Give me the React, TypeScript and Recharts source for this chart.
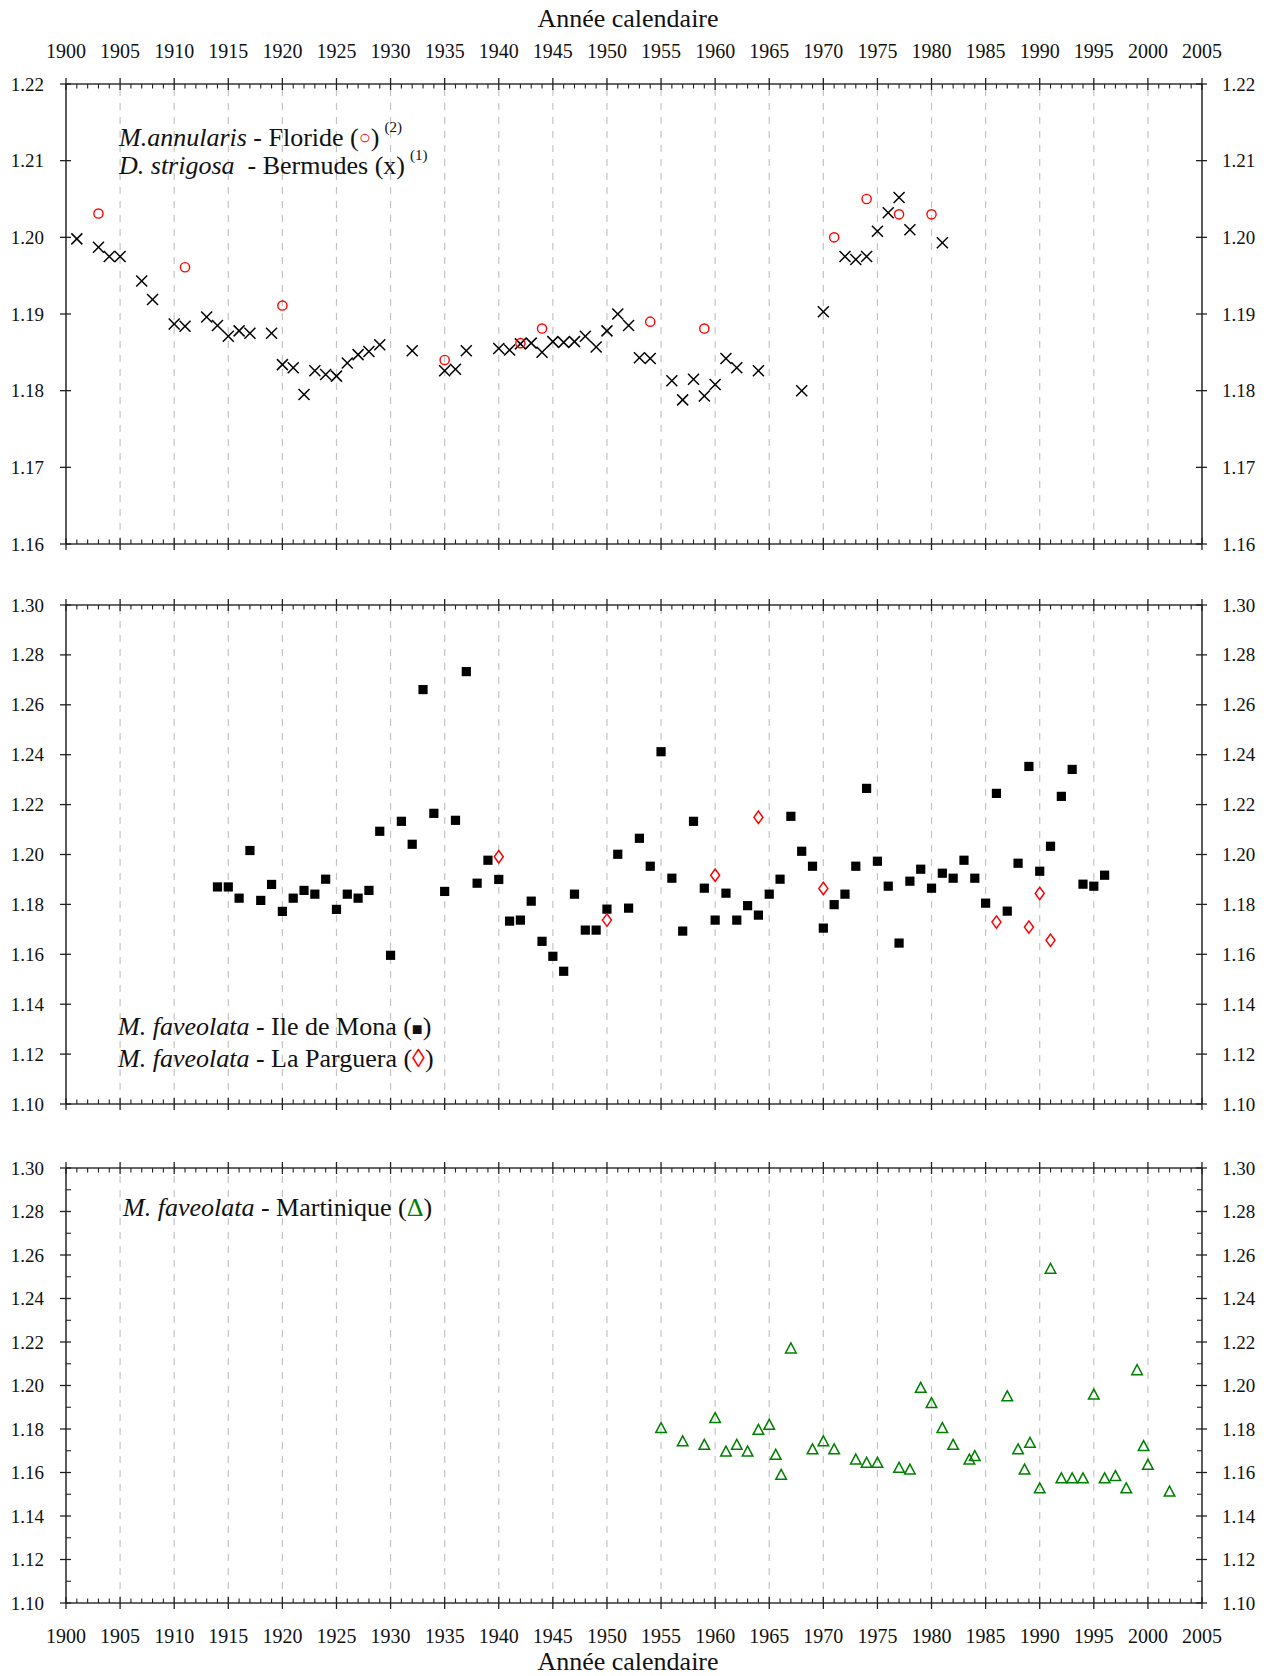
/**
 * Coral density series - three stacked scatter panels
 * Recharts ScatterChart, custom ticks on all four sides
 */

import { ScatterChart, Scatter, XAxis, YAxis, ReferenceLine } from 'recharts'

const FONT = '"Liberation Serif", "Times New Roman", serif'
const AXIS_COLOR = '#333333'
const TICK_COLOR = '#222222'
const RED = '#ff0000'
const GREEN = '#008000'

// Axis ticks
const yearTicks = Array.from({ length: 106 }, (_, i) => 1900 + i)
const gridYears = [1905, 1910, 1915, 1920, 1925, 1930, 1935, 1940, 1945, 1950, 1955, 1960, 1965, 1970, 1975, 1980, 1985, 1990, 1995, 2000]
const topTicks = [1.16, 1.17, 1.18, 1.19, 1.2, 1.21, 1.22]
const middleTicks = [1.1, 1.12, 1.14, 1.16, 1.18, 1.2, 1.22, 1.24, 1.26, 1.28, 1.3]
const bottomTicks = [1.1, 1.11, 1.12, 1.13, 1.14, 1.15, 1.16, 1.17, 1.18, 1.19, 1.2, 1.21, 1.22, 1.23, 1.24, 1.25, 1.26, 1.27, 1.28, 1.29, 1.3]

// D. strigosa - Bermudes (x)
const bermudesYears = [1901, 1903, 1904, 1905, 1907, 1908, 1910, 1911, 1913, 1914, 1915, 1916, 1917, 1919, 1920, 1921, 1922, 1923, 1924, 1925, 1926, 1927, 1928, 1929, 1932, 1935, 1936, 1937, 1940, 1941, 1942, 1943, 1944, 1945, 1946, 1947, 1948, 1949, 1950, 1951, 1952, 1953, 1954, 1956, 1957, 1958, 1959, 1960, 1961, 1962, 1964, 1968, 1970, 1972, 1973, 1974, 1975, 1976, 1977, 1978, 1981]
const bermudesValues = [1.1998, 1.1987, 1.1975, 1.1975, 1.1943, 1.1919, 1.1887, 1.1884, 1.1896, 1.1885, 1.1871, 1.1878, 1.1875, 1.1875, 1.1834, 1.183, 1.1795, 1.1826, 1.1821, 1.1819, 1.1836, 1.1847, 1.1851, 1.186, 1.1852, 1.1826, 1.1828, 1.1852, 1.1855, 1.1853, 1.1861, 1.1862, 1.185, 1.1864, 1.1863, 1.1864, 1.1871, 1.1857, 1.1878, 1.19, 1.1885, 1.1843, 1.1842, 1.1813, 1.1788, 1.1815, 1.1793, 1.1808, 1.1842, 1.183, 1.1826, 1.18, 1.1903, 1.1975, 1.1971, 1.1975, 1.2008, 1.2032, 1.2052, 1.201, 1.1993]

// M. annularis - Floride (o)
const florideYears = [1903, 1911, 1920, 1935, 1942, 1944, 1954, 1959, 1971, 1974, 1977, 1980]
const florideValues = [1.2031, 1.1961, 1.1911, 1.184, 1.1862, 1.1881, 1.189, 1.1881, 1.2, 1.205, 1.203, 1.203]

// M. faveolata - Ile de Mona (square)
const monaYears = [1914, 1915, 1916, 1917, 1918, 1919, 1920, 1921, 1922, 1923, 1924, 1925, 1926, 1927, 1928, 1929, 1930, 1931, 1932, 1933, 1934, 1935, 1936, 1937, 1938, 1939, 1940, 1941, 1942, 1943, 1944, 1945, 1946, 1947, 1948, 1949, 1950, 1951, 1952, 1953, 1954, 1955, 1956, 1957, 1958, 1959, 1960, 1961, 1962, 1963, 1964, 1965, 1966, 1967, 1968, 1969, 1970, 1971, 1972, 1973, 1974, 1975, 1976, 1977, 1978, 1979, 1980, 1981, 1982, 1983, 1984, 1985, 1986, 1987, 1988, 1989, 1990, 1991, 1992, 1993, 1994, 1995, 1996]
const monaValues = [1.187, 1.187, 1.1825, 1.2016, 1.1816, 1.188, 1.1772, 1.1825, 1.1856, 1.1841, 1.1901, 1.178, 1.1841, 1.1825, 1.1856, 1.2093, 1.1596, 1.2133, 1.2041, 1.2661, 1.2165, 1.1852, 1.2137, 1.2733, 1.1885, 1.1977, 1.19, 1.1733, 1.1737, 1.1813, 1.1652, 1.1592, 1.1532, 1.1841, 1.1697, 1.1697, 1.1781, 1.2001, 1.1785, 1.2065, 1.1953, 1.2412, 1.1905, 1.1693, 1.2133, 1.1865, 1.1737, 1.1845, 1.1737, 1.1795, 1.1757, 1.1841, 1.1901, 1.2153, 1.2013, 1.1953, 1.1705, 1.1799, 1.1841, 1.1953, 1.2265, 1.1973, 1.1873, 1.1645, 1.1893, 1.1941, 1.1865, 1.1925, 1.1905, 1.1977, 1.1905, 1.1805, 1.2245, 1.1773, 1.1965, 1.2353, 1.1933, 1.2033, 1.2233, 1.2341, 1.1881, 1.1873, 1.1917]

// M. faveolata - La Parguera (diamond)
const pargueraYears = [1940, 1950, 1960, 1964, 1970, 1986, 1989, 1990, 1991]
const pargueraValues = [1.1991, 1.1737, 1.1917, 1.2149, 1.1864, 1.1729, 1.1709, 1.1844, 1.1656]

// M. faveolata - Martinique (triangle)
const martiniqueYears = [1955, 1957, 1959, 1960, 1961, 1962, 1963, 1964, 1965, 1965.6, 1966.1, 1967, 1969, 1970, 1971, 1973, 1974, 1975, 1977, 1978, 1979, 1980, 1981, 1982, 1983.5, 1984, 1987, 1988, 1988.6, 1989.1, 1990, 1991, 1992, 1993, 1994, 1995, 1996, 1997, 1998, 1999, 1999.6, 2000, 2002]
const martiniqueValues = [1.1803, 1.1742, 1.1726, 1.1849, 1.1695, 1.1726, 1.1695, 1.1795, 1.1818, 1.168, 1.1588, 1.2169, 1.1705, 1.1742, 1.1705, 1.1658, 1.1643, 1.1643, 1.162, 1.1612, 1.1988, 1.1918, 1.1803, 1.1726, 1.1658, 1.1674, 1.1949, 1.1705, 1.1612, 1.1735, 1.1526, 1.2535, 1.1572, 1.1572, 1.1572, 1.1957, 1.1572, 1.1582, 1.1526, 1.2069, 1.172, 1.1634, 1.1511]

interface Point {
  year: number
  v: number
}

const toPoints = (years: number[], values: number[]): Point[] =>
  years.map((year, i) => ({ year, v: values[i] }))

const bermudesData = toPoints(bermudesYears, bermudesValues)
const florideData = toPoints(florideYears, florideValues)
const monaData = toPoints(monaYears, monaValues)
const pargueraData = toPoints(pargueraYears, pargueraValues)
const martiniqueData = toPoints(martiniqueYears, martiniqueValues)

// Marker shapes
interface MarkProps {
  cx?: number
  cy?: number
}

function CrossMark({ cx = 0, cy = 0 }: MarkProps) {
  const s = 5.5
  return (
    <g stroke="#000" strokeWidth={1.5}>
      <line x1={cx - s} y1={cy - s} x2={cx + s} y2={cy + s} />
      <line x1={cx - s} y1={cy + s} x2={cx + s} y2={cy - s} />
    </g>
  )
}

function CircleMark({ cx = 0, cy = 0 }: MarkProps) {
  return <circle cx={cx} cy={cy} r={4.6} fill="none" stroke={RED} strokeWidth={1.4} />
}

function SquareMark({ cx = 0, cy = 0 }: MarkProps) {
  return <rect x={cx - 4.6} y={cy - 4.6} width={9.2} height={9.2} fill="#000" />
}

function DiamondMark({ cx = 0, cy = 0 }: MarkProps) {
  const pts = `${cx},${cy - 6.2} ${cx + 4.5},${cy} ${cx},${cy + 6.2} ${cx - 4.5},${cy}`
  return <polygon points={pts} fill="#fff" stroke={RED} strokeWidth={1.5} />
}

function TriangleMark({ cx = 0, cy = 0 }: MarkProps) {
  const pts = `${cx},${cy - 5.8} ${cx + 5.3},${cy + 4.2} ${cx - 5.3},${cy + 4.2}`
  return <polygon points={pts} fill="none" stroke={GREEN} strokeWidth={1.5} strokeLinejoin="miter" />
}

const EmptyMark = () => <g />

// Custom ticks: major every 5 years with crossing tick, minor inward
function makeXTick(side: 'top' | 'bottom', showLabel: boolean) {
  return (props: any) => {
    const { x, y, payload } = props
    const v = payload.value as number
    const major = v % 5 === 0
    const inward = side === 'top' ? 1 : -1
    return (
      <g>
        {major ? (
          <line x1={x} x2={x} y1={y - 6} y2={y + 6} stroke={TICK_COLOR} strokeWidth={1.3} />
        ) : (
          <line x1={x} x2={x} y1={y} y2={y + inward * 4.5} stroke={TICK_COLOR} strokeWidth={1.1} />
        )}
        {major && showLabel && (
          <text
            x={x}
            y={side === 'top' ? y - 26 : y + 40}
            textAnchor="middle"
            fontFamily={FONT}
            fontSize={20}
            fill="#111"
          >
            {v}
          </text>
        )}
      </g>
    )
  }
}

function makeYTick(side: 'left' | 'right', majorStep: number) {
  return (props: any) => {
    const { x, y, payload } = props
    const hundredths = Math.round(payload.value * 100)
    const major = hundredths % majorStep === 0
    const inward = side === 'left' ? 1 : -1
    return (
      <g>
        {major ? (
          <line x1={x - 6} x2={x + 5} y1={y} y2={y} stroke={TICK_COLOR} strokeWidth={1.3} />
        ) : (
          <line x1={x} x2={x + inward * 5} y1={y} y2={y} stroke={TICK_COLOR} strokeWidth={1.1} />
        )}
        {major && (
          <text
            x={side === 'left' ? x - 22 : x + 20}
            y={y + 6.5}
            textAnchor={side === 'left' ? 'end' : 'start'}
            fontFamily={FONT}
            fontSize={19}
            fill="#111"
          >
            {(hundredths / 100).toFixed(2)}
          </text>
        )}
      </g>
    )
  }
}

const axisLineStyle = { stroke: AXIS_COLOR, strokeWidth: 1.6 }

// axes take 1px each (a 0-size axis is not drawn), so margins are 1px smaller
interface PanelProps {
  top: number
  height: number
  marginTop: number
  marginBottom: number
  yDomain: [number, number]
  yTicks: number[]
  majorStep: number
  topLabels?: boolean
  bottomLabels?: boolean
  anchorData: Point[]
  children?: React.ReactNode
}

function Panel({
  top,
  height,
  marginTop,
  marginBottom,
  yDomain,
  yTicks,
  majorStep,
  topLabels = false,
  bottomLabels = false,
  anchorData,
  children,
}: PanelProps) {
  return (
    <div style={{ position: 'absolute', left: 0, top }}>
      <ScatterChart
        width={1270}
        height={height}
        margin={{ top: marginTop - 1, bottom: marginBottom - 1, left: 65, right: 67 }}
      >
        <XAxis
          xAxisId="top"
          orientation="top"
          type="number"
          dataKey="year"
          domain={[1900, 2005]}
          ticks={yearTicks}
          interval={0}
          height={1}
          tickSize={0}
          tickMargin={0}
          axisLine={axisLineStyle}
          tick={makeXTick('top', topLabels)}
        />
        <XAxis
          xAxisId="bottom"
          orientation="bottom"
          type="number"
          dataKey="year"
          domain={[1900, 2005]}
          ticks={yearTicks}
          interval={0}
          height={1}
          tickSize={0}
          tickMargin={0}
          axisLine={axisLineStyle}
          tick={makeXTick('bottom', bottomLabels)}
        />
        <YAxis
          yAxisId="left"
          orientation="left"
          type="number"
          dataKey="v"
          domain={yDomain}
          ticks={yTicks}
          interval={0}
          width={1}
          tickSize={0}
          tickMargin={0}
          axisLine={axisLineStyle}
          tick={makeYTick('left', majorStep)}
        />
        <YAxis
          yAxisId="right"
          orientation="right"
          type="number"
          dataKey="v"
          domain={yDomain}
          ticks={yTicks}
          interval={0}
          width={1}
          tickSize={0}
          tickMargin={0}
          axisLine={axisLineStyle}
          tick={makeYTick('right', majorStep)}
        />

        {/* Dashed vertical grid every 5 years */}
        {gridYears.map((yr) => (
          <ReferenceLine
            key={`grid-${yr}`}
            x={yr}
            xAxisId="bottom"
            yAxisId="left"
            stroke="#c4c4c4"
            strokeWidth={1.2}
            strokeDasharray="7 7"
          />
        ))}

        {/* keeps the top/right axes bound to data */}
        <Scatter
          data={anchorData}
          xAxisId="top"
          yAxisId="right"
          shape={EmptyMark}
          isAnimationActive={false}
        />

        {children}
      </ScatterChart>
    </div>
  )
}

const textStyle = { fontFamily: FONT, whiteSpace: 'pre' as const }

export default function App() {
  return (
    <div style={{ position: 'absolute', left: 0, top: 0, width: 1270, height: 1676, background: '#fff' }}>
      <Panel
        top={0}
        height={574}
        marginTop={84}
        marginBottom={30}
        yDomain={[1.16, 1.22]}
        yTicks={topTicks}
        majorStep={1}
        topLabels
        anchorData={bermudesData}
      >
        <Scatter data={bermudesData} xAxisId="bottom" yAxisId="left" shape={CrossMark} isAnimationActive={false} />
        <Scatter data={florideData} xAxisId="bottom" yAxisId="left" shape={CircleMark} isAnimationActive={false} />
      </Panel>

      <Panel
        top={574}
        height={562}
        marginTop={31}
        marginBottom={32}
        yDomain={[1.1, 1.3]}
        yTicks={middleTicks}
        majorStep={2}
        anchorData={monaData}
      >
        <Scatter data={monaData} xAxisId="bottom" yAxisId="left" shape={SquareMark} isAnimationActive={false} />
        <Scatter data={pargueraData} xAxisId="bottom" yAxisId="left" shape={DiamondMark} isAnimationActive={false} />
      </Panel>

      <Panel
        top={1136}
        height={540}
        marginTop={32}
        marginBottom={73}
        yDomain={[1.1, 1.3]}
        yTicks={bottomTicks}
        majorStep={2}
        bottomLabels
        anchorData={martiniqueData}
      >
        <Scatter data={martiniqueData} xAxisId="bottom" yAxisId="left" shape={TriangleMark} isAnimationActive={false} />
      </Panel>

      {/* Titles and in-plot legends */}
      <svg
        width={1270}
        height={1676}
        style={{ position: 'absolute', left: 0, top: 0, pointerEvents: 'none' }}
      >
        <text x={628} y={27} textAnchor="middle" fontSize={26} fill="#111" style={textStyle}>
          Année calendaire
        </text>
        <text x={628} y={1670} textAnchor="middle" fontSize={26} fill="#111" style={textStyle}>
          Année calendaire
        </text>

        <text x={119} y={146} fontSize={26} fill="#111" style={textStyle}>
          <tspan fontStyle="italic">M.annularis</tspan>
          <tspan> - Floride (</tspan>
          <tspan fill={RED} fontSize={20} dy={-2}>○</tspan>
          <tspan dy={2}>)</tspan>
          <tspan dx={5} dy={-14} fontSize={15}>(2)</tspan>
        </text>
        <text x={119} y={174} fontSize={26} fill="#111" style={textStyle}>
          <tspan fontStyle="italic">D. strigosa</tspan>
          <tspan>  - Bermudes (x)</tspan>
          <tspan dx={5} dy={-14} fontSize={15}>(1)</tspan>
        </text>

        <text x={118} y={1035} fontSize={26} fill="#111" style={textStyle}>
          <tspan fontStyle="italic">M. faveolata</tspan>
          <tspan> - Ile de Mona (</tspan>
          <tspan fontSize={18}>■</tspan>
          <tspan>)</tspan>
        </text>
        <text x={118} y={1067} fontSize={26} fill="#111" style={textStyle}>
          <tspan fontStyle="italic">M. faveolata</tspan>
          <tspan> - La Parguera (</tspan>
          <tspan fill={RED}>◊</tspan>
          <tspan>)</tspan>
        </text>

        <text x={123} y={1216} fontSize={26} fill="#111" style={textStyle}>
          <tspan fontStyle="italic">M. faveolata</tspan>
          <tspan> - Martinique (</tspan>
          <tspan fill={GREEN}>Δ</tspan>
          <tspan>)</tspan>
        </text>
      </svg>
    </div>
  )
}
